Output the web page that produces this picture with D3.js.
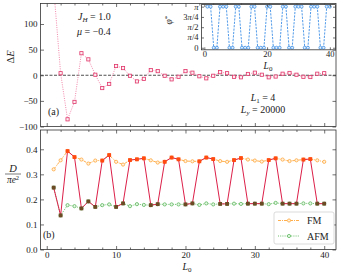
<!DOCTYPE html>
<html>
<head>
<meta charset="utf-8">
<script src="https://cdn.jsdelivr.net/npm/d3@7"></script>
<style>
  body { margin: 0; background: #fff; }
  text { font-family: "Liberation Serif", "DejaVu Serif", serif; fill: #222; }
</style>
</head>
<body>
<svg id="chart" width="341" height="276"></svg>
<script>
// L0 values (x axis, shared by all panels)
var L0 = [1,2,3,4,5,6,7,8,9,10,11,12,13,14,15,16,17,18,19,20,
          21,22,23,24,25,26,27,28,29,30,31,32,33,34,35,36,37,38,39,40];

// panel (a): energy difference
var deltaE = [170, 4, -86, -52, 43, 31, 1, -25, -17, 18,
              14, -1, -12, -7, 10, 8, -1, -8, -3, 8,
              5, -2, -6, -1, 6, 4, -3, -4, 2.5, 5,
              1, -4, -2.5, 3, 4.5, 1, -3, -3.5, 3, 4];

// panel (b): D / (pi e^2)
var dFM = [0.320, 0.356, 0.393, 0.369, 0.359, 0.343, 0.355, 0.355, 0.377, 0.350,
           0.339, 0.357, 0.360, 0.364, 0.356, 0.347, 0.350, 0.367, 0.360, 0.353,
           0.352, 0.352, 0.367, 0.361, 0.353, 0.350, 0.357, 0.365, 0.359, 0.355,
           0.351, 0.357, 0.364, 0.359, 0.353, 0.356, 0.359, 0.361, 0.356, 0.350];
var dAFM = [0.247, 0.136, 0.177, 0.173, 0.164, 0.192, 0.170, 0.177, 0.180, 0.170,
            0.184, 0.173, 0.181, 0.178, 0.177, 0.181, 0.180, 0.180, 0.180, 0.180,
            0.184, 0.178, 0.184, 0.180, 0.182, 0.182, 0.183, 0.182, 0.183, 0.183,
            0.183, 0.181, 0.186, 0.183, 0.183, 0.183, 0.184, 0.184, 0.183, 0.183];
// which phase is the ground state at each L0
var ground = ["A","A","F","F","A","A","A","F","F","A",
              "A","F","F","F","A","A","F","F","F","A",
              "A","F","F","F","A","A","F","F","A","A",
              "A","F","F","A","A","A","F","F","A","A"];

// inset: phi* in units of pi
var phiStar = [1,1,0,0,1,1,1,0,0,1,
               1,0,0,0,1,1,0,0,0,1,
               1,0,0,0,1,1,0,0,1,1,
               1,0,0,1,1,1,0,0,1,1];

var topTicks = [-100, -50, 0, 50, 100];
var topTickLabels = ["\u2212100", "\u221250", "0", "50", "100"];
var botTicks = [0, 0.1, 0.2, 0.3, 0.4];
var botTickLabels = ["0.0", "0.1", "0.2", "0.3", "0.4"];
var xTicks = [0, 10, 20, 30, 40];
var insetXTicks = [0, 20, 40];
var insetYTicks = [0, 0.25, 0.5, 0.75, 1];

var C_DE = "#e0356a", C_DE_LINE = "#f07aa0";
var C_FM = "#ffa63a", C_AFM = "#5cb85c";
var C_GS = "#dc1f48", C_GS_F = "#ff4a12", C_GS_A = "#6b4a25";
var C_IN = "#3d8fe6";

var X0 = 40.5, X1 = 336;
var svg = d3.select("#chart");

var x = d3.scaleLinear().domain([-0.9, 41.7]).range([X0, X1]);
var yTop = d3.scaleLinear().domain([-100, 140]).range([126.5, 3.5]);
var yBot = d3.scaleLinear().domain([0, 0.477]).range([249.5, 130]);

var xMinor = [2,4,6,8,12,14,16,18,22,24,26,28,32,34,36,38];

function frame(g, xs, ys, opt) {
    var r0 = xs.range(), r1 = ys.range();
    var left = r0[0], right = r0[1], bottom = r1[0], top = r1[1];
    var major = opt.major || 3.5, minor = opt.minor || 2;
    // bottom ticks
    var ax = g.append("g").attr("transform", "translate(0," + bottom + ")")
        .call(d3.axisBottom(xs).tickValues(opt.xTicks).tickSize(-major).tickPadding(opt.xPad)
              .tickFormat(opt.xLabels ? d3.format("d") : ""));
    ax.select(".domain").remove();
    ax.selectAll("text").style("font-size", opt.fs + "px").attr("fill", "#222");
    g.append("g").attr("transform", "translate(0," + top + ")")
        .call(d3.axisTop(xs).tickValues(opt.xTicks).tickSize(-major).tickFormat(""))
        .select(".domain").remove();
    if (opt.xMinor) {
        g.append("g").attr("transform", "translate(0," + bottom + ")")
            .call(d3.axisBottom(xs).tickValues(opt.xMinor).tickSize(-minor).tickFormat(""))
            .select(".domain").remove();
        g.append("g").attr("transform", "translate(0," + top + ")")
            .call(d3.axisTop(xs).tickValues(opt.xMinor).tickSize(-minor).tickFormat(""))
            .select(".domain").remove();
    }
    var ay = g.append("g").attr("transform", "translate(" + left + ",0)")
        .call(d3.axisLeft(ys).tickValues(opt.yTicks).tickSize(-major).tickPadding(opt.yPad)
              .tickFormat(function(d, i) { return opt.yLabels ? opt.yLabels[i] : ""; }));
    ay.select(".domain").remove();
    ay.selectAll("text").style("font-size", opt.fs + "px").attr("fill", "#222");
    g.append("g").attr("transform", "translate(" + right + ",0)")
        .call(d3.axisRight(ys).tickValues(opt.yTicks).tickSize(-major).tickFormat(""))
        .select(".domain").remove();
    g.selectAll(".tick line").attr("stroke", "#333").attr("stroke-width", 0.7);
    g.append("rect")
        .attr("x", left).attr("y", top)
        .attr("width", right - left).attr("height", bottom - top)
        .attr("fill", "none").attr("stroke", "#333").attr("stroke-width", 0.8);
}

function clip(id, xs, ys) {
    svg.append("clipPath").attr("id", id).append("rect")
        .attr("x", xs.range()[0]).attr("y", ys.range()[1])
        .attr("width", xs.range()[1] - xs.range()[0])
        .attr("height", ys.range()[0] - ys.range()[1]);
}

// ---------- panel (a) ----------
clip("clipA", x, yTop);
var gA = svg.append("g");
var pA = gA.append("g").attr("clip-path", "url(#clipA)");

pA.append("line")
    .attr("x1", X0).attr("x2", X1)
    .attr("y1", yTop(0)).attr("y2", yTop(0))
    .attr("stroke", "#222").attr("stroke-width", 0.8)
    .attr("stroke-dasharray", "3,1.5");

var lineA = d3.line().x(function(d, i) { return x(L0[i]); }).y(function(d) { return yTop(d); });
pA.append("path").datum(deltaE)
    .attr("d", lineA).attr("fill", "none")
    .attr("stroke", C_DE_LINE).attr("stroke-width", 0.9)
    .attr("stroke-dasharray", "1,1.3");
pA.selectAll(".sq").data(deltaE).enter().append("rect")
    .attr("x", function(d, i) { return x(L0[i]) - 1.6; })
    .attr("y", function(d) { return yTop(d) - 1.6; })
    .attr("width", 3.2).attr("height", 3.2)
    .attr("fill", "#fdeef2").attr("stroke", C_DE).attr("stroke-width", 0.8);

frame(gA, x, yTop, { xTicks: xTicks, xMinor: xMinor, yTicks: topTicks, yLabels: topTickLabels,
                     xLabels: false, fs: 9, xPad: 2, yPad: 3 });

gA.append("text").attr("transform", "translate(14,57) rotate(-90)")
    .attr("text-anchor", "middle").style("font-size", "10.5px")
    .html('\u0394<tspan font-style="italic">E</tspan>');

var tJ = gA.append("text").attr("x", 78).attr("y", 20).style("font-size", "10px");
tJ.append("tspan").attr("font-style", "italic").text("J");
tJ.append("tspan").attr("font-style", "italic").attr("dy", 2).style("font-size", "7px").text("H");
tJ.append("tspan").attr("dy", -2).text(" = 1.0");
var tMu = gA.append("text").attr("x", 77).attr("y", 35).style("font-size", "10px");
tMu.append("tspan").attr("font-style", "italic").text("\u03bc");
tMu.append("tspan").text(" = \u22120.4");

gA.append("text").attr("x", 48).attr("y", 115).style("font-size", "10px").text("(a)");

var tL1 = gA.append("text").attr("x", 263).attr("y", 101).attr("text-anchor", "middle").style("font-size", "10px");
tL1.append("tspan").attr("font-style", "italic").text("L");
tL1.append("tspan").attr("dy", 2).style("font-size", "7px").text("1");
tL1.append("tspan").attr("dy", -2).text(" = 4");
var tLy = gA.append("text").attr("x", 263).attr("y", 112.5).attr("text-anchor", "middle").style("font-size", "10px");
tLy.append("tspan").attr("font-style", "italic").text("L");
tLy.append("tspan").attr("font-style", "italic").attr("dy", 2).style("font-size", "7px").text("y");
tLy.append("tspan").attr("dy", -2).text(" = 20000");

// ---------- inset ----------
var xi = d3.scaleLinear().domain([-0.9, 41.8]).range([201.5, 335.5]);
var yi = d3.scaleLinear().domain([-0.05, 1.05]).range([49.8, 4.6]);
var gI = svg.append("g");
gI.append("rect").attr("x", 201.5).attr("y", 4.6).attr("width", 134).attr("height", 45.2)
    .attr("fill", "#fff");
clip("clipI", xi, yi);
var pI = gI.append("g").attr("clip-path", "url(#clipI)");
var lineI = d3.line().x(function(d, i) { return xi(L0[i]); }).y(function(d) { return yi(d); });
pI.append("path").datum(phiStar).attr("d", lineI).attr("fill", "none")
    .attr("stroke", C_IN).attr("stroke-width", 0.9).attr("stroke-dasharray", "2.2,1.2");
pI.selectAll(".ci").data(phiStar).enter().append("circle")
    .attr("cx", function(d, i) { return xi(L0[i]); })
    .attr("cy", function(d) { return yi(d); })
    .attr("r", 1.5).attr("fill", "#e6f1fc").attr("stroke", C_IN).attr("stroke-width", 0.8);

frame(gI, xi, yi, { xTicks: insetXTicks, xMinor: null, yTicks: insetYTicks, yLabels: null,
                    xLabels: true, fs: 8.5, xPad: 1, yPad: 3, major: 2.5 });
// pi tick labels
var piLab = [["0", ""], ["\u03c0", "/4"], ["\u03c0", "/2"], ["3\u03c0", "/4"], ["\u03c0", ""]];
insetYTicks.forEach(function(t, i) {
    var tt = gI.append("text").attr("x", 198.5).attr("y", yi(t) + 3)
        .attr("text-anchor", "end").style("font-size", "8.5px");
    if (i === 0) { tt.text("0"); return; }
    var s = piLab[i][0];
    if (s.length > 1) tt.append("tspan").text(s.charAt(0));
    tt.append("tspan").attr("font-style", "italic").text("\u03c0");
    if (piLab[i][1]) tt.append("tspan").text(piLab[i][1]);
});
gI.append("text").attr("transform", "translate(172,20) rotate(-90)")
    .attr("text-anchor", "middle").style("font-size", "9.5px")
    .html('<tspan font-style="italic">\u03c6</tspan><tspan dy="-3" font-size="7px">*</tspan>');
var tLi = gI.append("text").attr("x", 268).attr("y", 68.5).attr("text-anchor", "middle").style("font-size", "9.5px");
tLi.append("tspan").attr("font-style", "italic").text("L");
tLi.append("tspan").attr("dy", 2).style("font-size", "7px").text("0");

// ---------- panel (b) ----------
clip("clipB", x, yBot);
var gB = svg.append("g");
var pB = gB.append("g").attr("clip-path", "url(#clipB)");

function seriesLine(vals) {
    return d3.line().x(function(d, i) { return x(L0[i]); }).y(function(d) { return yBot(d); })(vals);
}
pB.append("path").attr("d", seriesLine(dFM)).attr("fill", "none")
    .attr("stroke", C_FM).attr("stroke-width", 0.9).attr("stroke-dasharray", "3,1,1,1");
pB.append("path").attr("d", seriesLine(dAFM)).attr("fill", "none")
    .attr("stroke", C_AFM).attr("stroke-width", 0.9).attr("stroke-dasharray", "1,1.2");
pB.selectAll(".fm").data(dFM).enter().append("circle")
    .attr("cx", function(d, i) { return x(L0[i]); }).attr("cy", function(d) { return yBot(d); })
    .attr("r", 1.6).attr("fill", "#fff3e0").attr("stroke", C_FM).attr("stroke-width", 0.8);
pB.selectAll(".afm").data(dAFM).enter().append("circle")
    .attr("cx", function(d, i) { return x(L0[i]); }).attr("cy", function(d) { return yBot(d); })
    .attr("r", 1.6).attr("fill", "#e8f6e8").attr("stroke", C_AFM).attr("stroke-width", 0.8);

var gsVals = ground.map(function(g, i) { return g === "F" ? dFM[i] : dAFM[i]; });
pB.append("path").attr("d", seriesLine(gsVals)).attr("fill", "none")
    .attr("stroke", C_GS).attr("stroke-width", 1);
pB.selectAll(".gs").data(gsVals).enter().append("rect")
    .attr("x", function(d, i) { return x(L0[i]) - 1.9; })
    .attr("y", function(d) { return yBot(d) - 1.9; })
    .attr("width", 3.8).attr("height", 3.8)
    .attr("fill", function(d, i) { return ground[i] === "F" ? C_GS_F : C_GS_A; });

frame(gB, x, yBot, { xTicks: xTicks, xMinor: xMinor, yTicks: botTicks, yLabels: botTickLabels,
                     xLabels: true, fs: 9, xPad: 2, yPad: 3 });

// y label as fraction D / (pi e^2)
gB.append("text").attr("x", 13).attr("y", 171.5).attr("text-anchor", "middle")
    .style("font-size", "10.5px").attr("font-style", "italic").text("D");
gB.append("line").attr("x1", 5).attr("x2", 21).attr("y1", 174).attr("y2", 174)
    .attr("stroke", "#222").attr("stroke-width", 0.6);
var tPe = gB.append("text").attr("x", 13).attr("y", 183).attr("text-anchor", "middle").style("font-size", "9.5px");
tPe.append("tspan").attr("font-style", "italic").text("\u03c0e");
tPe.append("tspan").attr("dy", -3.5).style("font-size", "6.5px").text("2");

gB.append("text").attr("x", 43).attr("y", 237.5).style("font-size", "10px").text("(b)");

var tL0 = gB.append("text").attr("x", 187).attr("y", 269.5).attr("text-anchor", "middle").style("font-size", "10px");
tL0.append("tspan").attr("font-style", "italic").text("L");
tL0.append("tspan").attr("dy", 2).style("font-size", "7px").text("0");

// legend
var lg = gB.append("g");
lg.append("rect").attr("x", 274).attr("y", 212).attr("width", 60).attr("height", 32)
    .attr("rx", 2).attr("fill", "#fff").attr("stroke", "#ccc").attr("stroke-width", 0.7);
var legendItems = [{ name: "FM", color: C_FM, fill: "#fff3e0", dash: "3,1,1,1" },
                   { name: "AFM", color: C_AFM, fill: "#e8f6e8", dash: "1,1.2" }];
legendItems.forEach(function(d, i) {
    var yy = 220.5 + i * 15.5;
    lg.append("line").attr("x1", 278).attr("x2", 300).attr("y1", yy).attr("y2", yy)
        .attr("stroke", d.color).attr("stroke-width", 0.9).attr("stroke-dasharray", d.dash);
    lg.append("circle").attr("cx", 289).attr("cy", yy).attr("r", 1.6)
        .attr("fill", d.fill).attr("stroke", d.color).attr("stroke-width", 0.8);
    lg.append("text").attr("x", 307).attr("y", yy + 3.5).style("font-size", "10px").text(d.name);
});
</script>
</body>
</html>
